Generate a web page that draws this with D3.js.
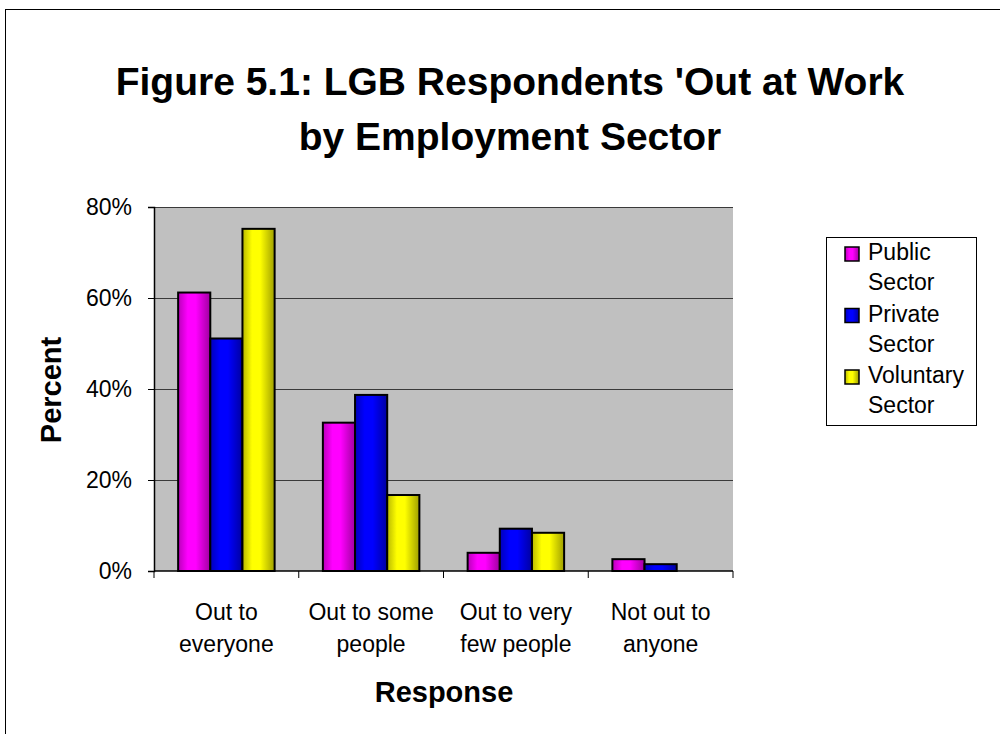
<!DOCTYPE html>
<html>
<head>
<meta charset="utf-8">
<script src="https://cdn.jsdelivr.net/npm/d3@7"></script>
<style>
  html, body { margin: 0; padding: 0; background: #fff; }
  svg { display: block; font-family: "Liberation Sans", Arial, sans-serif; }
</style>
</head>
<body>
<svg id="chart" width="1000" height="734"></svg>
<script>
const categories = ["Out to everyone", "Out to some people", "Out to very few people", "Not out to anyone"];
const categoryLines = [["Out to", "everyone"], ["Out to some", "people"], ["Out to very", "few people"], ["Not out to", "anyone"]];
const series = ["Public Sector", "Private Sector", "Voluntary Sector"];
const legendLines = [["Public", "Sector"], ["Private", "Sector"], ["Voluntary", "Sector"]];
const publicValues = [61.2, 32.6, 4.0, 2.6];
const privateValues = [51.1, 38.7, 9.3, 1.5];
const voluntaryValues = [75.2, 16.7, 8.4, 0];
const yTicks = [0, 20, 40, 60, 80];
const seriesColors = ["#FF00FF", "#0000FF", "#FFFF00"];

const valuesBySeries = [publicValues, privateValues, voluntaryValues];
const svg = d3.select("#chart");

// outer chart border
svg.append("rect").attr("x", 5.5).attr("y", 9.5).attr("width", 1100).attr("height", 900)
  .attr("fill", "#fff").attr("stroke", "#000").attr("stroke-width", 1);

// gradients
const defs = svg.append("defs");
seriesColors.forEach((c, i) => {
  const base = d3.rgb(c);
  const g = defs.append("linearGradient").attr("id", "grad" + i)
    .attr("x1", "0%").attr("x2", "100%").attr("y1", "0%").attr("y2", "0%");
  g.append("stop").attr("offset", "0%").attr("stop-color", base.darker(0.9));
  g.append("stop").attr("offset", "30%").attr("stop-color", base);
  g.append("stop").attr("offset", "55%").attr("stop-color", base);
  g.append("stop").attr("offset", "100%").attr("stop-color", base.darker(1.3));
});

const plot = { left: 154, right: 733, top: 207, bottom: 571 };

const x0 = d3.scaleBand().domain(categories).range([plot.left, plot.right]).paddingInner(0).paddingOuter(0);
const x1 = d3.scaleBand().domain(series).range([0, x0.bandwidth()]).paddingInner(0).paddingOuter(0.75);
const y = d3.scaleLinear().domain([0, 80]).range([plot.bottom, plot.top]);

// plot background
svg.append("rect").attr("x", plot.left).attr("y", plot.top)
  .attr("width", plot.right - plot.left).attr("height", plot.bottom - plot.top)
  .attr("fill", "#C0C0C0");

// gridlines
svg.append("g").selectAll("line").data(yTicks.filter(d => d > 0)).join("line")
  .attr("x1", plot.left).attr("x2", plot.right)
  .attr("y1", d => Math.round(y(d)) + 0.5).attr("y2", d => Math.round(y(d)) + 0.5)
  .attr("stroke", "#3a3a3a").attr("stroke-width", 1);

// bars
const barData = [];
categories.forEach((cat, ci) => {
  series.forEach((s, si) => {
    barData.push({ cat, s, si, v: valuesBySeries[si][ci] });
  });
});
svg.append("g").selectAll("rect").data(barData.filter(d => d.v > 0)).join("rect")
  .attr("x", d => x0(d.cat) + x1(d.s))
  .attr("y", d => y(d.v))
  .attr("width", x1.bandwidth())
  .attr("height", d => y(0) - y(d.v))
  .attr("fill", d => `url(#grad${d.si})`)
  .attr("stroke", "#000").attr("stroke-width", 2);

// y axis
const yAxis = d3.axisLeft(y).tickValues(yTicks).tickFormat(d => d + "%").tickSize(6).tickPadding(16);
const yg = svg.append("g").attr("transform", `translate(${plot.left},0)`).call(yAxis);
yg.select(".domain").attr("stroke", "#000").attr("stroke-width", 1.5);
yg.selectAll(".tick line").attr("stroke", "#000");
yg.selectAll(".tick text").attr("font-size", 23).attr("font-family", "Liberation Sans, Arial, sans-serif").attr("fill", "#000");

// x axis
const xg = svg.append("g").attr("transform", `translate(0,${plot.bottom})`);
xg.append("line").attr("x1", plot.left).attr("x2", plot.right).attr("y1", 0).attr("y2", 0)
  .attr("stroke", "#000").attr("stroke-width", 1.5);
const boundaries = categories.map(c => x0(c)).concat([x0(categories[categories.length - 1]) + x0.bandwidth()]);
xg.selectAll("line.tk").data(boundaries).join("line").attr("class", "tk")
  .attr("x1", d => d).attr("x2", d => d).attr("y1", 0).attr("y2", 7)
  .attr("stroke", "#000").attr("stroke-width", 1);
const lbl = xg.selectAll("text.cat").data(categories).join("text").attr("class", "cat")
  .attr("x", d => x0(d) + x0.bandwidth() / 2)
  .attr("text-anchor", "middle").attr("font-size", 23).attr("fill", "#000");
lbl.each(function(d, i) {
  const t = d3.select(this);
  categoryLines[i].forEach((line, li) => {
    t.append("tspan").attr("x", x0(d) + x0.bandwidth() / 2).attr("y", 49 + li * 32).text(line);
  });
});

// axis titles
svg.append("text").attr("x", 444).attr("y", 702).attr("text-anchor", "middle")
  .attr("font-size", 29).attr("font-weight", "bold").text("Response");
svg.append("text").attr("transform", "translate(61,390) rotate(-90)").attr("text-anchor", "middle")
  .attr("font-size", 29).attr("font-weight", "bold").text("Percent");

// title
const title = svg.append("text").attr("text-anchor", "middle").attr("font-size", 39).attr("font-weight", "bold");
title.append("tspan").attr("x", 510).attr("y", 95).text("Figure 5.1: LGB Respondents 'Out at Work");
title.append("tspan").attr("x", 510).attr("y", 150).text("by Employment Sector");

// legend
const lg = svg.append("g");
lg.append("rect").attr("x", 826.5).attr("y", 237.5).attr("width", 150).attr("height", 188)
  .attr("fill", "#fff").attr("stroke", "#000").attr("stroke-width", 1);
series.forEach((s, i) => {
  const base = 260 + i * 61.5;
  lg.append("rect").attr("x", 845).attr("y", base - 13).attr("width", 14).attr("height", 14)
    .attr("fill", `url(#grad${i})`).attr("stroke", "#000").attr("stroke-width", 1.5);
  const t = lg.append("text").attr("font-size", 23).attr("fill", "#000");
  legendLines[i].forEach((line, li) => {
    t.append("tspan").attr("x", 868).attr("y", base + li * 30).text(line);
  });
});
</script>
</body>
</html>
